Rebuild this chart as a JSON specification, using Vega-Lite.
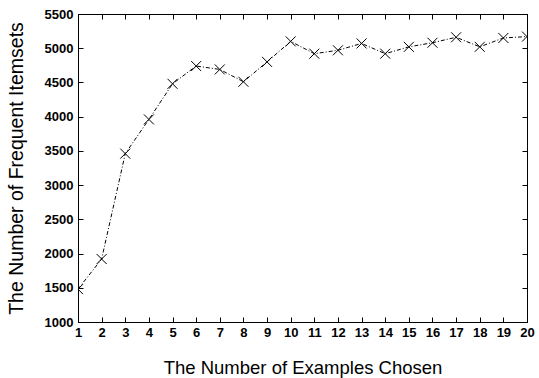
{
  "$schema": "https://vega.github.io/schema/vega-lite/v6.json",
  "width": 449,
  "height": 308,
  "autosize": {"type": "none"},
  "padding": {"left": 78, "top": 14, "right": 12, "bottom": 56},
  "background": "white",
  "config": {
    "view": {"stroke": "black", "strokeWidth": 1},
    "axis": {
      "labelFont": "Liberation Sans",
      "labelFontWeight": "bold",
      "labelFontSize": 13,
      "labelColor": "black",
      "titleFont": "Liberation Sans",
      "titleFontWeight": "normal",
      "titleFontSize": 18.5,
      "titleColor": "black",
      "domainColor": "black",
      "tickColor": "black",
      "grid": false
    }
  },
  "data": {
    "values": [
      {"n": 1, "v": 1480},
      {"n": 2, "v": 1920},
      {"n": 3, "v": 3460},
      {"n": 4, "v": 3960},
      {"n": 5, "v": 4480},
      {"n": 6, "v": 4740},
      {"n": 7, "v": 4690},
      {"n": 8, "v": 4510},
      {"n": 9, "v": 4800},
      {"n": 10, "v": 5100},
      {"n": 11, "v": 4920},
      {"n": 12, "v": 4970},
      {"n": 13, "v": 5070},
      {"n": 14, "v": 4920},
      {"n": 15, "v": 5020},
      {"n": 16, "v": 5080},
      {"n": 17, "v": 5160},
      {"n": 18, "v": 5020},
      {"n": 19, "v": 5150},
      {"n": 20, "v": 5170}
    ]
  },
  "layer": [
    {
      "mark": {"type": "line", "color": "black", "strokeWidth": 1, "strokeDash": [4, 2, 1, 2], "clip": true},
      "encoding": {
        "x": {"field": "n", "type": "quantitative", "scale": {"domain": [1, 20], "nice": false},
          "axis": {"values": [1,2,3,4,5,6,7,8,9,10,11,12,13,14,15,16,17,18,19,20], "tickSize": -5, "labelPadding": 9, "labelFlush": false, "labelOverlap": false, "title": "The Number of Examples Chosen", "titlePadding": 19}},
        "y": {"field": "v", "type": "quantitative", "scale": {"domain": [1000, 5500], "nice": false, "zero": false},
          "axis": {"values": [1000,1500,2000,2500,3000,3500,4000,4500,5000,5500], "format": "d", "tickSize": -5, "labelPadding": 10, "labelFlush": false, "labelOverlap": false, "title": "The Number of Frequent Itemsets", "titleFontSize": 19.5, "titlePadding": 18}}
      }
    },
    {
      "mark": {"type": "point", "shape": "M-1,-1L1,1M-1,1L1,-1", "filled": false, "stroke": "black", "strokeWidth": 1, "size": 100, "opacity": 1, "clip": true},
      "encoding": {
        "x": {"field": "n", "type": "quantitative", "axis": {"orient": "top", "values": [1,2,3,4,5,6,7,8,9,10,11,12,13,14,15,16,17,18,19,20], "tickSize": -5, "labels": false, "title": null}},
        "y": {"field": "v", "type": "quantitative", "axis": {"orient": "right", "values": [1000,1500,2000,2500,3000,3500,4000,4500,5000,5500], "tickSize": -5, "labels": false, "title": null}}
      }
    }
  ],
  "resolve": {"axis": {"x": "independent", "y": "independent"}}
}
